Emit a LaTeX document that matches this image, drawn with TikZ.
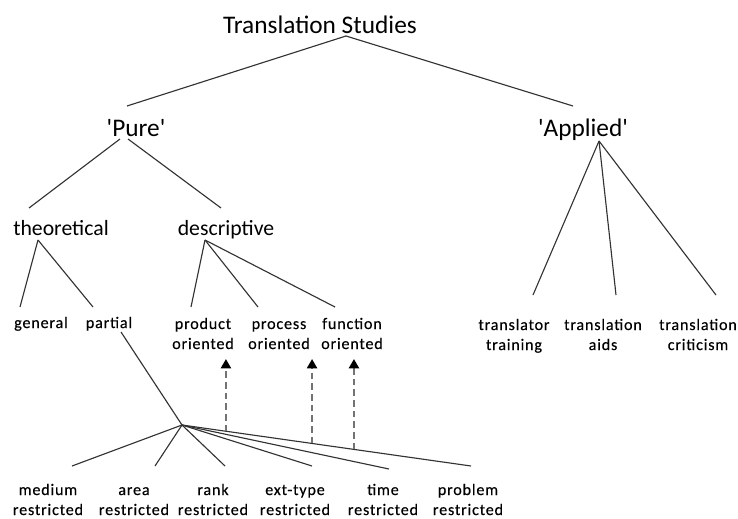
\documentclass[tikz,border=0pt]{standalone}
\usepackage{fontspec}
\setmainfont{Carlito}
\newfontfamily\labelfont{Carlito}[LetterSpace=5,FakeBold=0.3]
\usetikzlibrary{calc,arrows.meta}
\begin{document}
\begin{tikzpicture}[x=0.75pt,y=-0.75pt,
  lbl/.style={inner sep=0pt,anchor=base,text=black},
  toplbl/.style={lbl,font=\fontsize{19pt}{23pt}\selectfont},
  midlbl/.style={lbl,font=\fontsize{16.3pt}{20pt}\selectfont},
  leaf/.style={lbl,align=center,font=\labelfont\fontsize{12.1pt}{15pt}\selectfont},
  branch/.style={draw=black!80,line width=0.85pt},
  link/.style={draw=black!55,line width=1.7pt,dash pattern=on 5pt off 3pt,
    -{Triangle[width=7.5pt,length=7pt,black,fill=black]}}]
\useasboundingbox (0,0) rectangle (738,518);

% headings
\node[toplbl] (ts) at (320,33) {Translation Studies};
\node[toplbl] (pure) at (136,136.5) {\textquotesingle Pure\textquotesingle};
\node[toplbl] (applied) at (583,136) {\textquotesingle Applied\textquotesingle};
\node[midlbl] (theo) at (61,235) {theoretical};
\node[midlbl] (desc) at (226,235) {descriptive};

% leaves of the tree (base = baseline of the last line)
\node[leaf] (general) at (41,328) {general};
\node[leaf] (partial) at (109,328) {partial};
\node[leaf] (product) at (203,349) {product\\oriented};
\node[leaf] (process) at (279,349) {process\\oriented};
\node[leaf] (function) at (352,349) {function\\oriented};
\node[leaf] (training) at (514,350) {translator\\training};
\node[leaf] (aids) at (603,350) {translation\\aids};
\node[leaf] (criticism) at (698,350) {translation\\criticism};

\node[leaf] (medium) at (48,515) {medium\\restricted};
\node[leaf] (area) at (134,515) {area\\restricted};
\node[leaf] (rank) at (213,515) {rank\\restricted};
\node[leaf] (exttype) at (295,515) {ext-type\\restricted};
\node[leaf] (time) at (383,515) {time\\restricted};
\node[leaf] (problem) at (468,515) {problem\\restricted};

% branches
\draw[branch] ($(ts.base)+(26,3)$) -- ($(pure.base)+(-9,-30.5)$);
\draw[branch] ($(ts.base)+(26,3)$) -- ($(applied.base)+(-10,-30)$);
\draw[branch] ($(pure.base)+(-16,2.5)$) -- ($(theo.base)+(-32,-27)$);
\draw[branch] ($(pure.base)+(-8,2.5)$) -- ($(desc.base)+(-5,-27)$);
\draw[branch] ($(theo.base)+(-23,5)$) -- ($(general.base)+(-21,-21)$);
\draw[branch] ($(theo.base)+(-23,5)$) -- ($(partial.base)+(-16,-21)$);
\draw[branch] ($(desc.base)+(-21,5)$) -- ($(product.base)+(-12,-42)$);
\draw[branch] ($(desc.base)+(-21,5)$) -- ($(process.base)+(-21,-42)$);
\draw[branch] ($(desc.base)+(-21,5)$) -- ($(function.base)+(-17,-42)$);
\draw[branch] ($(applied.base)+(16,5)$) -- ($(training.base)+(19,-55)$);
\draw[branch] ($(applied.base)+(16,5)$) -- ($(aids.base)+(13,-55)$);
\draw[branch] ($(applied.base)+(16,5)$) -- ($(criticism.base)+(18,-55)$);

% the fan below "partial"
\coordinate (hub) at (182,425);
\coordinate (pend) at ($(problem.base)+(3,-49)$);
\draw[branch] ($(partial.base)+(12,4)$) -- (hub);
\draw[branch] (hub) -- ($(medium.base)+(24,-49)$);
\draw[branch] (hub) -- ($(area.base)+(21,-49)$);
\draw[branch] (hub) -- ($(rank.base)+(12,-49)$);
\draw[branch] (hub) -- ($(exttype.base)+(17,-49)$);
\draw[branch] (hub) -- ($(time.base)+(6,-46)$);
\draw[branch] (hub) -- (pend);

% dashed links up to the descriptive branches
\coordinate (s1) at ($(hub)!0.152!(pend)$);
\coordinate (s2) at ($(hub)!0.450!(pend)$);
\coordinate (s3) at ($(hub)!0.595!(pend)$);
\draw[link] (s1) -- (s1 |- {$(product.base)+(0,10)$});
\draw[link] (s2) -- (s2 |- {$(process.base)+(0,10)$});
\draw[link] (s3) -- (s3 |- {$(function.base)+(0,10)$});
\end{tikzpicture}
\end{document}
